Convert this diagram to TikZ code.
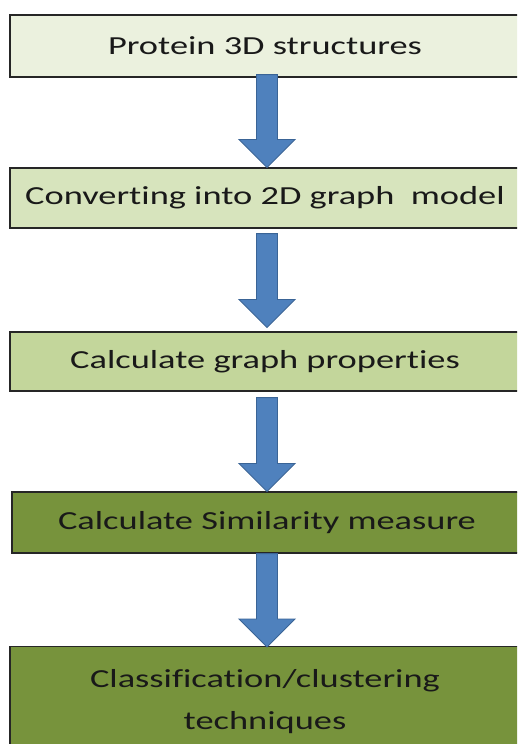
\documentclass[tikz,border=0pt]{standalone}
\usepackage{fontspec}
\setmainfont{Carlito}[FakeStretch=1.4, Ligatures=NoCommon]
\usetikzlibrary{calc}
\definecolor{c1}{HTML}{EBF1DE}
\definecolor{c2}{HTML}{D7E4BD}
\definecolor{c3}{HTML}{C3D69B}
\definecolor{c4}{HTML}{77933C}
\definecolor{arrowblue}{HTML}{4F81BD}
\definecolor{arrowedge}{HTML}{3A6496}
\newcommand\flowarrow[2]{%
  \path let \p1=(#1), \p2=(#2) in
    [fill=arrowblue, draw=arrowedge, line width=0.9pt, line join=miter]
    (\x1-10.5pt,\y1) -- (\x1+10.5pt,\y1) -- (\x1+10.5pt,\y2+28pt) -- (\x1+28pt,\y2+28pt)
    -- (\x1,\y2) -- (\x1-28pt,\y2+28pt) -- (\x1-10.5pt,\y2+28pt) -- cycle;}
\begin{document}
\begin{tikzpicture}[x=1pt,y=-1pt,
  stepbox/.style={draw=black!85, line width=1.1pt, rectangle, minimum width=510pt,
    inner sep=0pt, font=\fontsize{26}{42}\selectfont, text=black!90, align=center}]
\useasboundingbox (0,0) rectangle (517,744);
\clip (0,0) rectangle (517,744);
\node[stepbox, fill=c1, minimum height=62pt] (b1) at (265,46) {Protein 3D structures};
\node[stepbox, fill=c2, minimum height=60pt] (b2) at (265,198) {Converting into 2D graph\ \ model};
\node[stepbox, fill=c3, minimum height=59pt] (b3) at (265,361.5) {Calculate graph properties};
\node[stepbox, fill=c4, minimum height=61pt] (b4) at (267,522.5) {Calculate Similarity measure};
\node[stepbox, fill=c4, minimum height=110pt, anchor=north] (b5) at (265,646) {Classification/clustering\\techniques};
\coordinate (a1s) at ($(b1.south)+(2,-3)$);
\coordinate (a1e) at ($(b2.north)+(2,0)$);
\coordinate (a2s) at ($(b2.south)+(2,5)$);
\coordinate (a2e) at ($(b3.north)+(2,-4)$);
\coordinate (a3s) at ($(b3.south)+(2,6)$);
\coordinate (a3e) at ($(b4.north)+(0,0)$);
\coordinate (a4s) at ($(b4.south)+(0,0)$);
\coordinate (a4e) at ($(b5.north)+(2,1)$);
\flowarrow{a1s}{a1e}
\flowarrow{a2s}{a2e}
\flowarrow{a3s}{a3e}
\flowarrow{a4s}{a4e}
\end{tikzpicture}
\end{document}
